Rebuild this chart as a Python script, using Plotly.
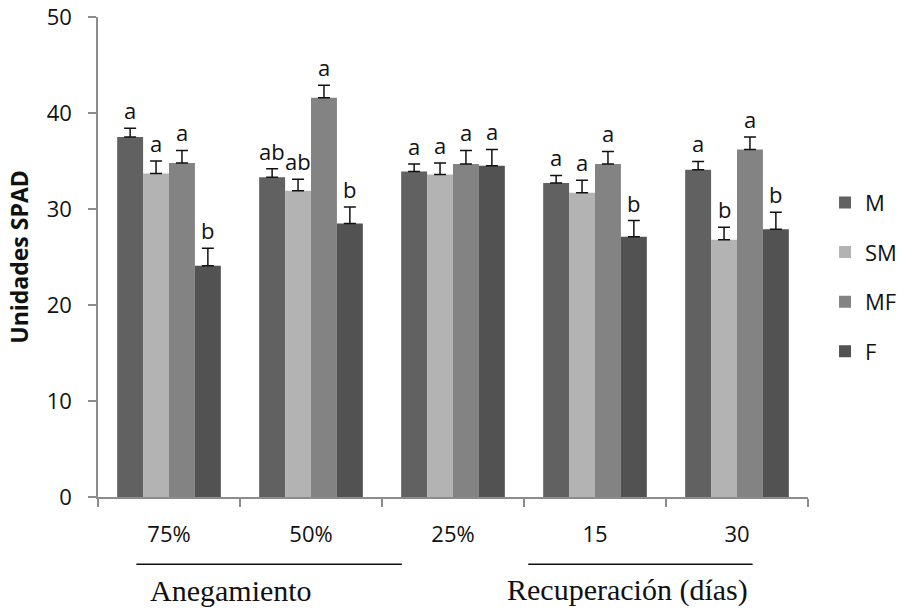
import numpy as np
import plotly.graph_objects as go

# Categories along the x axis
categories = ["75%", "50%", "25%", "15", "30"]

# Mean SPAD values per series
series_names = ["M", "SM", "MF", "F"]
m_vals = [37.5, 33.3, 33.9, 32.7, 34.1]
sm_vals = [33.7, 31.9, 33.6, 31.7, 26.8]
mf_vals = [34.8, 41.6, 34.7, 34.7, 36.2]
f_vals = [24.1, 28.5, 34.5, 27.1, 27.9]

# Upper error (standard error)
m_err = [0.9, 0.9, 0.8, 0.8, 0.85]
sm_err = [1.3, 1.2, 1.2, 1.3, 1.3]
mf_err = [1.3, 1.3, 1.4, 1.3, 1.3]
f_err = [1.8, 1.7, 1.7, 1.7, 1.75]

# Significance letters
m_letters = ["a", "ab", "a", "a", "a"]
sm_letters = ["a", "ab", "a", "a", "b"]
mf_letters = ["a", "a", "a", "a", "a"]
f_letters = ["b", "b", "a", "b", "b"]

values = [m_vals, sm_vals, mf_vals, f_vals]
errors = [m_err, sm_err, mf_err, f_err]
letters = [m_letters, sm_letters, mf_letters, f_letters]
colors = ["#616161", "#b3b3b3", "#838383", "#525252"]

group_frac = 0.73
n_series = len(series_names)
bar_w = group_frac / n_series
centers = np.arange(len(categories))

label_font = "Open Sans, Noto Sans, sans-serif"
ink = "#111111"

fig = go.Figure()
annotations = []
for j, name in enumerate(series_names):
    xs = centers + (j - (n_series - 1) / 2) * bar_w
    fig.add_trace(go.Bar(
        x=xs, y=values[j], width=bar_w, name=name,
        marker=dict(color=colors[j], line=dict(width=0)),
        error_y=dict(type="data", symmetric=False, array=errors[j],
                     arrayminus=[0] * len(categories),
                     color=ink, thickness=1.5, width=6),
        legendgroup=name,
    ))
    for i in range(len(categories)):
        annotations.append(dict(
            x=xs[i], y=values[j][i] + errors[j][i], xref="x", yref="y",
            text=letters[j][i], showarrow=False, yanchor="bottom",
            yshift=1, font=dict(family=label_font, size=22, color=ink),
        ))

# Group captions under the category labels
serif = "Liberation Serif, Times New Roman, serif"
annotations += [
    dict(x=0.44, y=-0.231, xref="x", yref="paper", text="Anegamiento",
         showarrow=False, font=dict(family=serif, size=30, color=ink),
         xanchor="center", yanchor="bottom", borderpad=0),
    dict(x=3.23, y=-0.231, xref="x", yref="paper", text="Recuperación (días)",
         showarrow=False, font=dict(family=serif, size=30, color=ink),
         xanchor="center", yanchor="bottom", borderpad=0),
]
shapes = [
    dict(type="line", xref="x", yref="paper", x0=-0.23, x1=1.64,
         y0=-0.14, y1=-0.14, line=dict(color=ink, width=1.5)),
    dict(type="line", xref="x", yref="paper", x0=2.53, x1=4.11,
         y0=-0.14, y1=-0.14, line=dict(color=ink, width=1.5)),
]

fig.update_layout(
    width=904, height=613,
    margin=dict(l=98, r=96, t=17, b=116, autoexpand=False),
    plot_bgcolor="white", paper_bgcolor="white",
    barmode="overlay",
    showlegend=True,
    legend=dict(x=1.024, y=0.458, xanchor="left", yanchor="middle",
                font=dict(family=label_font, size=22, color=ink),
                traceorder="grouped", tracegroupgap=18),
    annotations=annotations,
    shapes=shapes,
    font=dict(family=label_font, color=ink),
)

fig.update_xaxes(
    range=[-0.5, 4.5], tickmode="array", tickvals=centers, ticktext=categories,
    ticks="", showline=True, linecolor="#8c8c8c", linewidth=1.5,
    showgrid=False, zeroline=False, ticklabelstandoff=17,
    tickfont=dict(family=label_font, size=22, color=ink),
    minor=dict(tickmode="array", tickvals=list(np.arange(-0.5, 5, 1.0)),
               ticks="outside", ticklen=8, tickcolor="#8c8c8c", tickwidth=1.5),
)
fig.update_yaxes(
    range=[0, 50], tickvals=[0, 10, 20, 30, 40, 50],
    ticks="outside", ticklen=8, tickcolor="#8c8c8c", tickwidth=1.5,
    showline=True, linecolor="#8c8c8c", linewidth=1.5,
    showgrid=False, zeroline=False, ticklabelstandoff=12,
    tickfont=dict(family=label_font, size=22, color=ink),
    title=dict(text="<b>Unidades SPAD</b>", standoff=12,
               font=dict(family=label_font, size=23, color=ink)),
)

fig.write_html("out.html")
